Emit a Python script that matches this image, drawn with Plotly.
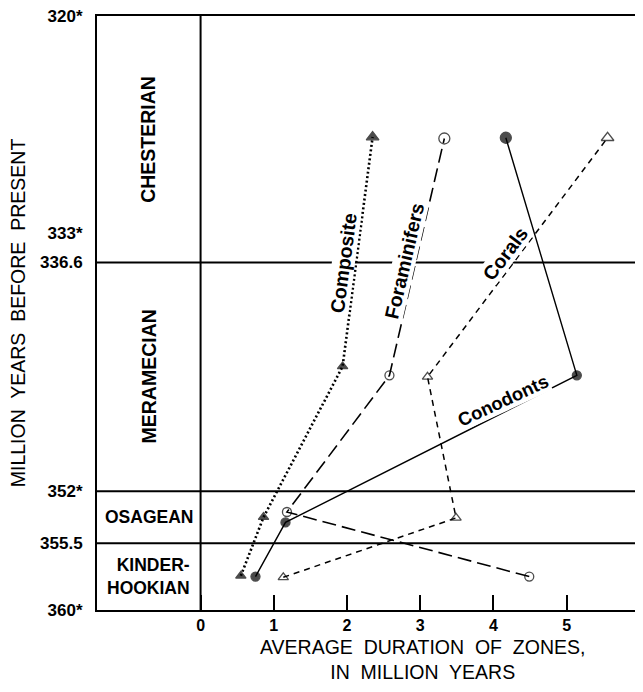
import plotly.graph_objects as go

# ---------------- data ----------------
series_names = ["Composite", "Foraminifers", "Corals", "Conodonts"]

composite_x = [0.55, 0.86, 1.94, 2.35]
composite_y = [357.7, 353.75, 343.6, 328.15]

foram_x = [4.49, 1.18, 2.58, 3.33]
foram_y = [357.75, 353.4, 344.2, 328.25]

corals_x = [1.13, 3.49, 3.10, 5.56]
corals_y = [357.8, 353.8, 344.3, 328.2]

conodonts_x = [0.75, 1.16, 5.14, 4.17]
conodonts_y = [357.75, 354.1, 344.2, 328.2]

stage_names = ["CHESTERIAN", "MERAMECIAN", "OSAGEAN", "KINDER-<br>HOOKIAN"]
stage_bounds = [320, 336.6, 352, 355.5, 360]

y_tick_vals = [320, 333, 336.6, 352, 355.5, 360]
y_tick_text = ["320*", "333*", "336.6", "352*", "355.5", "360*"]
x_tick_vals = [0, 1, 2, 3, 4, 5, 6]
x_tick_text = ["0", "1", "2", "3", "4", "5", "6"]

# ---------------- styling ----------------
FONT = "Liberation Sans, Arial, Helvetica, sans-serif"
BLACK = "black"
TICKFONT_X = dict(family=FONT, size=16, color=BLACK, weight="bold")

fig = go.Figure()

def add_series(x, y, dash, width, symbols):
    fig.add_trace(go.Scatter(
        x=x, y=y, mode="lines+markers",
        line=dict(color=BLACK, width=width, dash=dash),
        marker=dict(symbol=symbols, size=[9, 9, 9, 11], color=BLACK,
                    line=dict(color=BLACK, width=1.3)),
        hoverinfo="skip", showlegend=False,
    ))

add_series(composite_x, composite_y, "2px,2.5px", 2.6, "triangle-up")
add_series(foram_x, foram_y, "14px,6px", 1.6, "circle-open")
add_series(corals_x, corals_y, "6px,5px", 1.5, "triangle-up-open")
add_series(conodonts_x, conodonts_y, "solid", 1.4, "circle")

# stage boundary lines
shapes = []
for b in stage_bounds[1:-1]:
    shapes.append(dict(type="line", xref="paper", x0=0, x1=1, yref="y", y0=b, y1=b,
                       line=dict(color=BLACK, width=2), layer="below"))
shapes.append(dict(type="line", xref="x", x0=0, x1=0, yref="paper", y0=0, y1=1,
                   line=dict(color=BLACK, width=2), layer="below"))

annotations = []
# stage labels in left column
stage_col_x = -0.71
for i, name in enumerate(stage_names):
    mid = (stage_bounds[i] + stage_bounds[i + 1]) / 2
    rot = -90 if i < 2 else 0
    size = 19.5 if i < 2 else 17.5
    annotations.append(dict(x=stage_col_x, y=mid, xref="x", yref="y", text=name,
                            showarrow=False, textangle=rot, align="right",
                            font=dict(family=FONT, size=size, color=BLACK, weight="bold")))

# series labels
label_pos = {
    "Composite": (1.95, 336.63, -82.5, 19.5),
    "Foraminifers": (2.78, 336.48, -77, 19.5),
    "Corals": (4.17, 335.98, -53, 19.5),
    "Conodonts": (4.13, 345.86, -25, 18.5),
}
for name in series_names:
    lx, ly, ang, sz = label_pos[name]
    annotations.append(dict(x=lx, y=ly, xref="x", yref="y", text=name, showarrow=False,
                            textangle=ang, bgcolor="white", borderpad=0,
                            font=dict(family=FONT, size=sz, color=BLACK, weight="bold")))

# last x tick label at the right edge (drawn as text so it is not dropped)
annotations.append(dict(x=x_tick_vals[-1], y=-0.0253, xref="x", yref="paper",
                        text=x_tick_text[-1], showarrow=False,
                        xanchor="center", yanchor="middle", font=TICKFONT_X))

# axis titles
annotations.append(dict(x=-0.145, y=0.5, xref="paper", yref="paper",
                        text="MILLION  YEARS  BEFORE  PRESENT", showarrow=False,
                        textangle=-90, xanchor="center", yanchor="middle",
                        font=dict(family=FONT, size=19.5, color=BLACK)))
annotations.append(dict(x=0.600, y=-0.083, xref="paper", yref="paper",
                        text="AVERAGE  DURATION  OF  ZONES,<br>IN  MILLION  YEARS",
                        showarrow=False, xanchor="center", yanchor="middle",
                        font=dict(family=FONT, size=19.5, color=BLACK)))

# displayed position of tick labels (333* is set just above 336.6 as in the original)
y_tick_display = [v if v != 333 else 334.6 for v in y_tick_vals]
x_tick_shown = x_tick_text[:-1] + [""]

fig.update_layout(
    template="none",
    width=635, height=676,
    margin=dict(l=89, r=3, t=8, b=74, autoexpand=False),
    paper_bgcolor="white", plot_bgcolor="white",
    showlegend=False,
    shapes=shapes, annotations=annotations,
    xaxis=dict(range=[-1.415, 6.003], tickvals=x_tick_vals, ticktext=x_tick_shown,
               ticks="inside", ticklen=15, tickwidth=1.5, tickcolor=BLACK,
               showgrid=False, zeroline=False, showline=True, mirror=True, automargin=False,
               linewidth=2, linecolor=BLACK, ticklabeloverflow="allow",
               tickfont=TICKFONT_X),
    yaxis=dict(range=[360, 320], tickvals=y_tick_display, ticktext=y_tick_text,
               ticks="", showgrid=False, zeroline=False, showline=True, mirror=True,
               automargin=False, ticklabeloverflow="allow",
               linewidth=2, linecolor=BLACK, ticklabelstandoff=9,
               tickfont=dict(family=FONT, size=17, color=BLACK, weight="bold")),
)

fig.write_html("out.html")
